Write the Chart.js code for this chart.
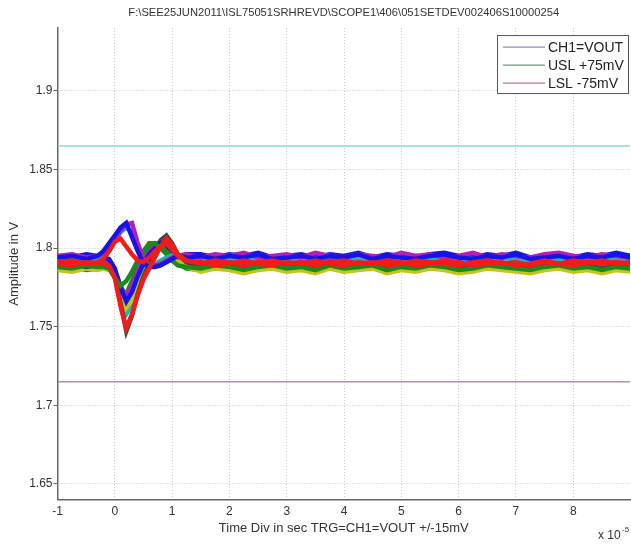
<!DOCTYPE html>
<html>
<head>
<meta charset="utf-8">
<title>Scope capture</title>
<script src="https://cdn.jsdelivr.net/npm/chart.js@4/dist/chart.umd.min.js"></script>
<style>
  html, body { margin: 0; padding: 0; background: #fff; }
  canvas { display: block; }
</style>
</head>
<body>
<canvas id="scope" width="631" height="544"></canvas>
<script>
// time axis, in units of 1e-5 s
const timeTicks = [-1, -0.75, -0.5, -0.3, -0.2, -0.1, 0, 0.1, 0.2, 0.3, 0.4, 0.5, 0.6, 0.7, 0.8, 0.9, 1, 1.1, 1.25,
  1.5, 1.75, 2, 2.25, 2.5, 2.75, 3, 3.25, 3.5, 3.75, 4, 4.25, 4.5, 4.75, 5, 5.25, 5.5, 5.75, 6, 6.25, 6.5, 6.75,
  7, 7.25, 7.5, 7.75, 8, 8.25, 8.5, 8.75, 9];
const xTickValues = [-1, 0, 1, 2, 3, 4, 5, 6, 7, 8];
const yTickValues = [1.65, 1.7, 1.75, 1.8, 1.85, 1.9];

// VOUT captures (V)
const redUp = [1.791, 1.792, 1.790, 1.791, 1.793, 1.798, 1.804, 1.806, 1.801, 1.796, 1.792, 1.791, 1.794, 1.798, 1.801, 1.803, 1.799, 1.795, 1.792,
  1.790, 1.792, 1.791, 1.789, 1.791, 1.792, 1.790, 1.791, 1.789, 1.791, 1.792, 1.790, 1.791, 1.789, 1.790, 1.792,
  1.791, 1.790, 1.789, 1.791, 1.792, 1.790, 1.791, 1.789, 1.791, 1.790, 1.792, 1.791, 1.790, 1.791, 1.790];
const redLow = [1.790, 1.789, 1.791, 1.790, 1.790, 1.789, 1.781, 1.763, 1.749, 1.758, 1.770, 1.780, 1.787, 1.794, 1.801, 1.806, 1.802, 1.796, 1.792,
  1.791, 1.789, 1.790, 1.792, 1.790, 1.789, 1.791, 1.790, 1.792, 1.790, 1.789, 1.791, 1.790, 1.792, 1.791, 1.789,
  1.790, 1.792, 1.791, 1.789, 1.790, 1.791, 1.789, 1.790, 1.792, 1.790, 1.789, 1.791, 1.792, 1.790, 1.791];
const blueUp = [1.794, 1.795, 1.793, 1.795, 1.798, 1.803, 1.808, 1.813, 1.816, 1.807, 1.798, 1.790, 1.788, 1.788, 1.789, 1.791, 1.793, 1.795, 1.794,
  1.795, 1.793, 1.795, 1.794, 1.796, 1.793, 1.794, 1.795, 1.793, 1.795, 1.794, 1.796, 1.793, 1.795, 1.794, 1.793,
  1.795, 1.796, 1.794, 1.793, 1.795, 1.794, 1.796, 1.793, 1.794, 1.795, 1.793, 1.795, 1.794, 1.796, 1.794];
const blueLow = [1.795, 1.794, 1.796, 1.795, 1.794, 1.793, 1.787, 1.775, 1.766, 1.772, 1.782, 1.790, 1.796, 1.800, 1.803, 1.802, 1.798, 1.795, 1.796,
  1.796, 1.794, 1.796, 1.795, 1.797, 1.794, 1.795, 1.796, 1.794, 1.796, 1.795, 1.797, 1.794, 1.796, 1.795, 1.794,
  1.796, 1.797, 1.795, 1.794, 1.796, 1.795, 1.797, 1.794, 1.795, 1.796, 1.794, 1.796, 1.795, 1.797, 1.795];
const magentaUp = [1.795, 1.796, 1.794, 1.795, 1.797, 1.801, 1.806, 1.811, 1.815, 1.816, 1.803, 1.793, 1.789, 1.789, 1.790, 1.792, 1.794, 1.795, 1.796,
  1.794, 1.796, 1.795, 1.797, 1.794, 1.795, 1.796, 1.794, 1.797, 1.795, 1.794, 1.796, 1.795, 1.794, 1.797, 1.795,
  1.796, 1.794, 1.795, 1.797, 1.794, 1.796, 1.795, 1.794, 1.796, 1.797, 1.795, 1.794, 1.796, 1.795, 1.794];
const magentaLow = [1.793, 1.794, 1.792, 1.793, 1.792, 1.791, 1.786, 1.776, 1.769, 1.776, 1.785, 1.792, 1.797, 1.801, 1.804, 1.803, 1.799, 1.795, 1.793,
  1.792, 1.794, 1.793, 1.795, 1.792, 1.793, 1.794, 1.792, 1.795, 1.793, 1.792, 1.794, 1.793, 1.792, 1.795, 1.793,
  1.794, 1.792, 1.793, 1.795, 1.792, 1.794, 1.793, 1.792, 1.794, 1.795, 1.793, 1.792, 1.794, 1.793, 1.792];
const cyanUp = [1.793, 1.792, 1.794, 1.793, 1.795, 1.800, 1.805, 1.810, 1.813, 1.810, 1.799, 1.791, 1.789, 1.790, 1.792, 1.794, 1.795, 1.794, 1.793,
  1.792, 1.794, 1.793, 1.791, 1.794, 1.793, 1.792, 1.794, 1.793, 1.795, 1.792, 1.793, 1.794, 1.792, 1.793, 1.795,
  1.793, 1.792, 1.794, 1.793, 1.791, 1.794, 1.793, 1.792, 1.794, 1.793, 1.795, 1.792, 1.793, 1.794, 1.792];
const cyanLow = [1.790, 1.791, 1.789, 1.790, 1.791, 1.790, 1.784, 1.769, 1.758, 1.764, 1.776, 1.786, 1.793, 1.799, 1.803, 1.804, 1.800, 1.795, 1.791,
  1.789, 1.791, 1.790, 1.788, 1.791, 1.790, 1.789, 1.791, 1.790, 1.792, 1.789, 1.790, 1.791, 1.789, 1.790, 1.792,
  1.790, 1.789, 1.791, 1.790, 1.788, 1.791, 1.790, 1.789, 1.791, 1.790, 1.792, 1.789, 1.790, 1.791, 1.789];
const greenShallow = [1.788, 1.787, 1.789, 1.788, 1.788, 1.787, 1.781, 1.776, 1.779, 1.785, 1.792, 1.798, 1.803, 1.803, 1.800, 1.796, 1.792, 1.789, 1.788,
  1.787, 1.789, 1.788, 1.786, 1.788, 1.789, 1.787, 1.788, 1.786, 1.789, 1.787, 1.788, 1.789, 1.786, 1.788, 1.787,
  1.789, 1.788, 1.786, 1.787, 1.789, 1.788, 1.787, 1.786, 1.788, 1.789, 1.787, 1.788, 1.786, 1.788, 1.787];
const greenLow = [1.787, 1.788, 1.786, 1.787, 1.788, 1.787, 1.785, 1.774, 1.771, 1.779, 1.788, 1.795, 1.800, 1.803, 1.802, 1.799, 1.794, 1.790, 1.787,
  1.786, 1.788, 1.787, 1.785, 1.787, 1.788, 1.786, 1.787, 1.785, 1.788, 1.786, 1.787, 1.788, 1.785, 1.787, 1.786,
  1.788, 1.787, 1.785, 1.786, 1.788, 1.787, 1.786, 1.785, 1.787, 1.788, 1.786, 1.787, 1.785, 1.787, 1.786];
const yellowLow = [1.786, 1.785, 1.787, 1.786, 1.787, 1.786, 1.785, 1.772, 1.762, 1.767, 1.778, 1.788, 1.795, 1.800, 1.803, 1.803, 1.798, 1.792, 1.788,
  1.785, 1.787, 1.786, 1.784, 1.786, 1.787, 1.785, 1.786, 1.784, 1.787, 1.785, 1.786, 1.787, 1.784, 1.786, 1.785,
  1.787, 1.786, 1.784, 1.785, 1.787, 1.786, 1.785, 1.784, 1.786, 1.787, 1.785, 1.786, 1.784, 1.786, 1.785];
const grayLow = [1.789, 1.790, 1.788, 1.789, 1.790, 1.789, 1.782, 1.765, 1.747, 1.757, 1.771, 1.782, 1.790, 1.798, 1.805, 1.808, 1.803, 1.796, 1.791,
  1.788, 1.790, 1.789, 1.787, 1.789, 1.790, 1.788, 1.789, 1.787, 1.790, 1.789, 1.788, 1.790, 1.787, 1.789, 1.788,
  1.790, 1.789, 1.787, 1.788, 1.790, 1.789, 1.788, 1.787, 1.789, 1.790, 1.788, 1.789, 1.787, 1.789, 1.788];

// spec limits (nominal 1.79 V +/- 75 mV)
const limitTimes = [-1, 9];
const uslLine = [1.865, 1.865];
const lslLine = [1.715, 1.715];

const legendLabels = ['CH1=VOUT', 'USL +75mV', 'LSL -75mV'];
const plotTitle = 'F:\\SEE25JUN2011\\ISL75051SRHREVD\\SCOPE1\\406\\051SETDEV002406S10000254';

Chart.defaults.font.family = '"Liberation Sans", Arial, sans-serif';
Chart.defaults.color = '#333';

const toPoints = (xs, ys) => ys.map((y, i) => ({ x: xs[i], y: y }));

// first entry ends up on top
const traces = [
  [redUp, '#f01c1c'],
  [redLow, '#f01c1c'],
  [blueUp, '#1414e6'],
  [magentaUp, '#b81cb8'],
  [cyanUp, '#1cb4b4'],
  [greenShallow, '#1a8a1a'],
  [blueLow, '#1414e6'],
  [grayLow, '#454545'],
  [yellowLow, '#c4c41a'],
  [magentaLow, '#b81cb8'],
  [cyanLow, '#1cb4b4'],
  [greenLow, '#1a8a1a']
];

const datasets = traces.map(([vals, color]) => ({
  data: toPoints(timeTicks, vals),
  borderColor: color,
  borderWidth: 4.5,
  pointRadius: 0,
  fill: false,
  order: 0
}));
datasets.push({ data: toPoints(limitTimes, uslLine), borderColor: '#86d9df', borderWidth: 1.5, pointRadius: 0, order: 1 });
datasets.push({ data: toPoints(limitTimes, lslLine), borderColor: '#b987c6', borderWidth: 1.5, pointRadius: 0, order: 1 });

// boxed legend in the top right corner plus the x10^-5 multiplier
const scopeDecor = {
  id: 'scopeDecor',
  afterDraw(chart) {
    const ctx = chart.ctx;
    const area = chart.chartArea;
    const legendColors = ['#8c8cd2', '#5fa46f', '#d0707e'];
    const bx = area.right - 133, by = area.top + 7, bw = 132, bh = 59;
    ctx.save();
    ctx.fillStyle = '#fff';
    ctx.fillRect(bx, by, bw, bh);
    ctx.strokeStyle = '#555';
    ctx.lineWidth = 1;
    ctx.strokeRect(bx + 0.5, by + 0.5, bw - 1, bh - 1);
    ctx.font = '14px "Liberation Sans", Arial, sans-serif';
    ctx.textBaseline = 'middle';
    legendLabels.forEach((txt, i) => {
      const cy = by + 12 + i * 18;
      ctx.strokeStyle = legendColors[i];
      ctx.lineWidth = 1.2;
      ctx.beginPath();
      ctx.moveTo(bx + 6, cy);
      ctx.lineTo(bx + 48, cy);
      ctx.stroke();
      ctx.fillStyle = '#222';
      ctx.fillText(txt, bx + 51, cy + 1);
    });

    ctx.fillStyle = '#333';
    ctx.textBaseline = 'alphabetic';
    ctx.font = '12px "Liberation Sans", Arial, sans-serif';
    ctx.fillText('x 10', 598, 539);
    ctx.font = '8px "Liberation Sans", Arial, sans-serif';
    ctx.fillText('-5', 622, 532);
    ctx.restore();
  }
};

new Chart(document.getElementById('scope'), {
  type: 'line',
  data: { datasets: datasets },
  plugins: [scopeDecor],
  options: {
    responsive: false,
    animation: false,
    layout: { padding: { left: 0, right: 1, top: 0, bottom: 0 } },
    elements: { line: { tension: 0 } },
    plugins: {
      legend: { display: false },
      tooltip: { enabled: false },
      title: {
        display: true,
        fullSize: false,
        text: plotTitle,
        color: '#333',
        font: { size: 11.2, weight: 'normal' },
        padding: { top: 5.8, bottom: 8.8 }
      }
    },
    scales: {
      x: {
        type: 'linear',
        min: -1,
        max: 8.99,
        afterFit(scale) { scale.height = 44.5; },
        afterBuildTicks(scale) { scale.ticks = xTickValues.map(v => ({ value: v })); },
        ticks: { padding: 5, maxRotation: 0, font: { size: 12 }, color: '#333' },
        grid: { color: '#c9c9c9', lineWidth: 1, drawTicks: false },
        border: { display: true, color: '#666', width: 1.5, dash: [1, 2] },
        title: { display: true, text: 'Time Div in sec TRG=CH1=VOUT +/-15mV', color: '#333', font: { size: 13 }, padding: { top: 0, bottom: 7.8 } }
      },
      y: {
        type: 'linear',
        min: 1.64,
        max: 1.94,
        afterFit(scale) { scale.width = 57.5; },
        afterBuildTicks(scale) { scale.ticks = yTickValues.map(v => ({ value: v })); },
        ticks: {
          padding: 1,
          font: { size: 12 },
          color: '#333',
          callback: (v) => String(+v.toFixed(2))
        },
        grid: { color: '#c9c9c9', lineWidth: 1, drawTicks: true, tickLength: 4, tickColor: '#666', tickBorderDash: [] },
        border: { display: true, color: '#666', width: 1.5, dash: [1, 2] },
        title: { display: true, text: 'Amplitude in V', color: '#333', font: { size: 13 }, padding: { top: 6.5, bottom: 0 } }
      }
    }
  }
});
</script>
</body>
</html>
